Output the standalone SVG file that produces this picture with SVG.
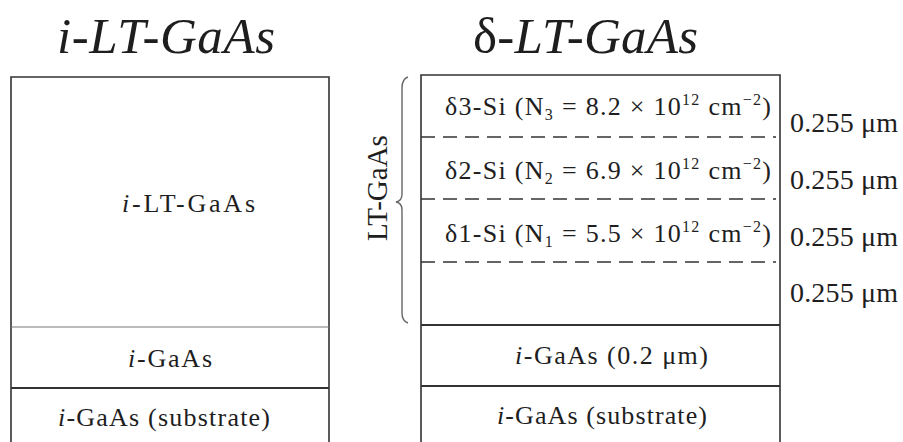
<svg xmlns="http://www.w3.org/2000/svg" width="903" height="442" viewBox="0 0 903 442">
<style>
text{font-family:"Liberation Serif","Times New Roman",serif;fill:#1e1e1e}
.title{font-size:51px;font-style:italic}
.lbl{font-size:26px}
.thk{font-size:28px}
.box{fill:none;stroke:#333;stroke-width:1.6}
.thin{stroke:#777;stroke-width:1}
.sol{stroke:#333;stroke-width:1.8}
.dash{stroke:#333;stroke-width:1.6;stroke-dasharray:14 8}
.brace{fill:none;stroke:#666;stroke-width:1.4}
.sm{font-size:16px}
</style>
<rect width="903" height="442" fill="#fff"/>
<g id="title-left"><text class="title" x="57" y="53" textLength="218" lengthAdjust="spacing">i-LT-GaAs</text></g>
<g id="title-right"><text class="title" x="473" y="53" textLength="225" lengthAdjust="spacing"><tspan font-style="normal">δ</tspan>-LT-GaAs</text></g>

<g id="left-stack">
<path class="box" d="M11,442 V77 H329 V442"/>
<line class="thin" x1="11" y1="327" x2="329" y2="327"/>
<line class="sol" x1="11" y1="388" x2="329" y2="388"/>
<text class="lbl" x="122" y="212" textLength="133" lengthAdjust="spacing"><tspan font-style="italic">i</tspan>-LT-GaAs</text>
<text class="lbl" x="128" y="367" textLength="84" lengthAdjust="spacing"><tspan font-style="italic">i</tspan>-GaAs</text>
<text class="lbl" x="58" y="426" textLength="212" lengthAdjust="spacing"><tspan font-style="italic">i</tspan>-GaAs (substrate)</text>
</g>

<g id="right-stack">
<path class="box" d="M421,442 V75 H780 V442"/>
<line class="sol" x1="421" y1="325" x2="780" y2="325"/>
<line class="sol" x1="421" y1="386" x2="780" y2="386"/>
<text class="lbl" x="445" y="115" textLength="326" lengthAdjust="spacing">δ3-Si (N<tspan class="sm" dy="5">3</tspan><tspan dy="-5"> = 8.2 × 10</tspan><tspan class="sm" dy="-10">12</tspan><tspan dy="10"> cm</tspan><tspan class="sm" dy="-10">−2</tspan><tspan dy="10">)</tspan></text>
<text class="lbl" x="445" y="179" textLength="326" lengthAdjust="spacing">δ2-Si (N<tspan class="sm" dy="5">2</tspan><tspan dy="-5"> = 6.9 × 10</tspan><tspan class="sm" dy="-10">12</tspan><tspan dy="10"> cm</tspan><tspan class="sm" dy="-10">−2</tspan><tspan dy="10">)</tspan></text>
<text class="lbl" x="445" y="242" textLength="326" lengthAdjust="spacing">δ1-Si (N<tspan class="sm" dy="5">1</tspan><tspan dy="-5"> = 5.5 × 10</tspan><tspan class="sm" dy="-10">12</tspan><tspan dy="10"> cm</tspan><tspan class="sm" dy="-10">−2</tspan><tspan dy="10">)</tspan></text>
<text class="lbl" x="515" y="364" textLength="193" lengthAdjust="spacing"><tspan font-style="italic">i</tspan>-GaAs (0.2 μm)</text>
<text class="lbl" x="497" y="424" textLength="210" lengthAdjust="spacing"><tspan font-style="italic">i</tspan>-GaAs (substrate)</text>
</g>

<g id="connectors">
<line class="dash" x1="421" y1="137" x2="776" y2="137"/>
<line class="dash" x1="421" y1="199" x2="776" y2="199"/>
<line class="dash" x1="421" y1="262" x2="776" y2="262"/>
</g>

<g id="thickness-labels">
<text class="thk" x="790" y="132" textLength="108" lengthAdjust="spacing">0.255 μm</text>
<text class="thk" x="790" y="189" textLength="108" lengthAdjust="spacing">0.255 μm</text>
<text class="thk" x="790" y="246" textLength="108" lengthAdjust="spacing">0.255 μm</text>
<text class="thk" x="790" y="302" textLength="108" lengthAdjust="spacing">0.255 μm</text>
</g>

<g id="lt-gaas-brace">
<path class="brace" d="M408,77 Q402,79 402,88 V194 Q402,201 396,202 Q402,203 402,210 V313 Q402,321 408,323"/>
<text transform="translate(387,188) rotate(-90)" text-anchor="middle" style="font-size:29px">LT-GaAs</text>
</g>
</svg>
